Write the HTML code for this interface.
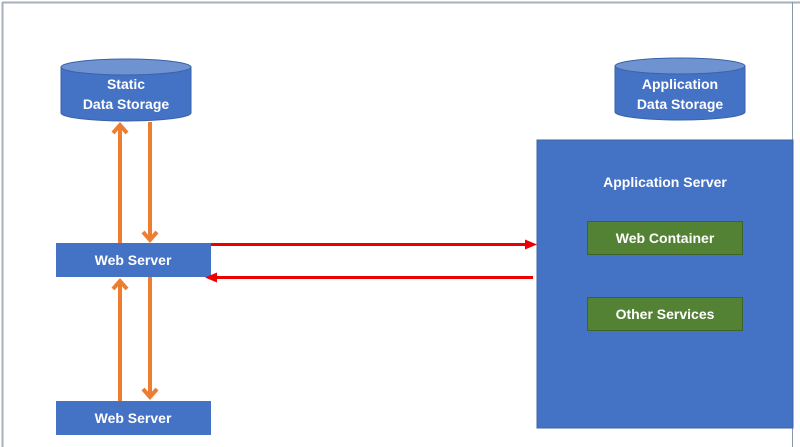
<!DOCTYPE html>
<html><head><meta charset="utf-8"><style>
html,body{margin:0;padding:0;background:#fff;}
svg{display:block;}
text{font-family:"Liberation Sans",sans-serif;font-weight:bold;fill:#fff;font-size:14px;}
</style></head><body>
<svg width="800" height="447" viewBox="0 0 800 447" xmlns="http://www.w3.org/2000/svg">
<rect width="800" height="447" fill="#fff"/>
<line x1="2.5" y1="2" x2="2.5" y2="447" stroke="#a6b0bd" stroke-width="2"/>
<line x1="2" y1="2.5" x2="800" y2="2.5" stroke="#a6b0bd" stroke-width="2"/>
<line x1="792.5" y1="2" x2="792.5" y2="447" stroke="#8a98aa" stroke-width="1"/>
<!-- Static cylinder -->
<path d="M61,67 L61,113 A65,8 0 0 0 191,113 L191,67 Z" fill="#4472c4" stroke="#3a62aa" stroke-width="1"/>
<ellipse cx="126" cy="67" rx="65" ry="8" fill="#6f93d1" stroke="#3a62aa" stroke-width="1"/>
<text x="126" y="89" text-anchor="middle">Static</text>
<text x="126" y="109" text-anchor="middle">Data Storage</text>
<!-- App cylinder -->
<path d="M615,66 L615,112 A65,8 0 0 0 745,112 L745,66 Z" fill="#4472c4" stroke="#3a62aa" stroke-width="1"/>
<ellipse cx="680" cy="66" rx="65" ry="8" fill="#6f93d1" stroke="#3a62aa" stroke-width="1"/>
<text x="680" y="89" text-anchor="middle">Application</text>
<text x="680" y="109" text-anchor="middle">Data Storage</text>
<!-- App server -->
<rect x="537" y="140" width="256" height="288" fill="#4472c4" stroke="#3d64a8" stroke-width="1"/>
<text x="665" y="187" text-anchor="middle">Application Server</text>
<rect x="587.5" y="221.5" width="155" height="33" fill="#548235" stroke="#3f6428"/>
<text x="665" y="243" text-anchor="middle">Web Container</text>
<rect x="587.5" y="297.5" width="155" height="33" fill="#548235" stroke="#3f6428"/>
<text x="665" y="319" text-anchor="middle">Other Services</text>
<!-- Web servers -->
<rect x="56" y="243" width="155" height="34" fill="#4472c4"/>
<text x="133" y="265" text-anchor="middle">Web Server</text>
<rect x="56" y="401" width="155" height="34" fill="#4472c4"/>
<text x="133" y="423" text-anchor="middle">Web Server</text>
<!-- Orange arrows -->
<g stroke="#ed7d31" stroke-width="4" fill="none" stroke-linecap="butt">
<line x1="120" y1="243" x2="120" y2="125"/>
<polyline points="113,133 120,125 127,133"/>
<line x1="150" y1="122" x2="150" y2="240"/>
<polyline points="143,232 150,240 157,232"/>
<line x1="120" y1="401" x2="120" y2="281"/>
<polyline points="113,289 120,281 127,289"/>
<line x1="150" y1="277" x2="150" y2="397"/>
<polyline points="143,389 150,397 157,389"/>
</g>
<!-- Red arrows -->
<g stroke="#ee0000" stroke-width="3">
<line x1="211" y1="244.5" x2="527" y2="244.5"/>
<line x1="533" y1="277.5" x2="215" y2="277.5"/>
</g>
<polygon points="537,244.5 525,239.5 525,249.5" fill="#ee0000"/>
<polygon points="205,277.5 217,272.5 217,282.5" fill="#ee0000"/>
</svg>
</body></html>
